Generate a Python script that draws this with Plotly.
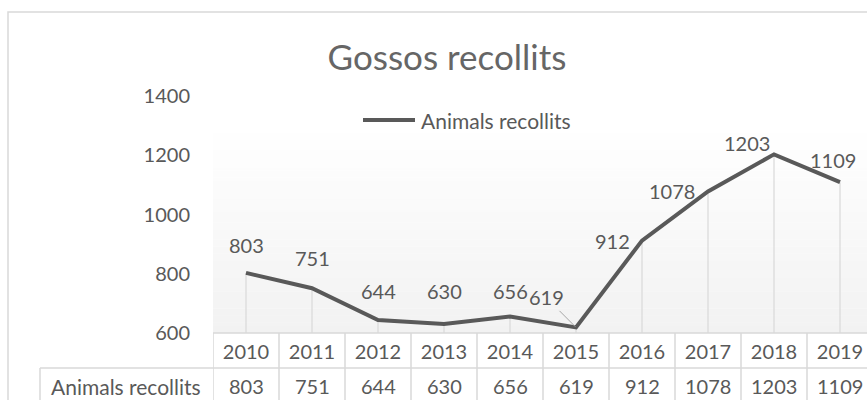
import plotly.graph_objects as go

years = ["2010", "2011", "2012", "2013", "2014", "2015", "2016", "2017", "2018", "2019"]
animals = [803, 751, 644, 630, 656, 619, 912, 1078, 1203, 1109]
series_name = "Animals recollits"
title_text = "Gossos recollits"
y_ticks = [600, 800, 1000, 1200, 1400]

# label offsets in px (dx, dy) per point, like Excel placed them
label_dx = [0, 0, 0, 0, 0, -30, -30, -36, -27, -7]
label_dy = [-28, -30, -29, -33, -25, -30, 0, 0, -11, -22]

W, H = 867, 400
L, R, T, B = 213, 0, 96, 67
PW = W - L - R
PH = H - T - B
GRAY = "#595959"
LINE = "#d9d9d9"
FONT = "Lato"


def px_x(px):
    return (px - L) / PW


def px_y(py):
    return (H - B - py) / PH


fig = go.Figure()
fig.add_trace(go.Scatter(
    x=years, y=animals, mode="lines", name=series_name,
    line=dict(color=GRAY, width=4),
    error_y=dict(type="data", symmetric=False, array=[0] * len(animals),
                 arrayminus=[v - y_ticks[0] for v in animals],
                 color=LINE, thickness=1.2, width=0),
    showlegend=False, cliponaxis=False,
))

shapes = []
# gradient background of plot area
n = 60
top = px_y(126)
for i in range(n):
    f = i / n
    c = round(255 - 13 * (1 - f - 0.5 / n))
    shapes.append(dict(type="rect", xref="paper", yref="paper",
                       x0=0, x1=1, y0=top * f, y1=top * (f + 1 / n) + 0.002,
                       fillcolor=f"rgb({c},{c},{c})", line=dict(width=0), layer="below"))

# chart border
shapes.append(dict(type="rect", xref="paper", yref="paper",
                   x0=px_x(8), x1=px_x(900), y0=px_y(440), y1=px_y(12),
                   line=dict(color=LINE, width=1.5), fillcolor="rgba(0,0,0,0)"))

# data table lines
shapes.append(dict(type="line", xref="paper", yref="paper", x0=0, x1=1.1,
                   y0=px_y(333), y1=px_y(333), line=dict(color=LINE, width=1.5)))
shapes.append(dict(type="line", xref="paper", yref="paper", x0=px_x(40), x1=1.1,
                   y0=px_y(368), y1=px_y(368), line=dict(color=LINE, width=1.5)))
shapes.append(dict(type="line", xref="paper", yref="paper", x0=px_x(40), x1=px_x(40),
                   y0=px_y(368), y1=px_y(420), line=dict(color=LINE, width=1.5)))
for i in range(len(years) + 1):
    shapes.append(dict(type="line", xref="x", yref="paper", x0=i - 0.5, x1=i - 0.5,
                       y0=px_y(333), y1=px_y(420), line=dict(color=LINE, width=1.5)))

# manual legend swatch
shapes.append(dict(type="line", xref="paper", yref="paper", x0=px_x(363), x1=px_x(415),
                   y0=px_y(120), y1=px_y(120), line=dict(color=GRAY, width=4)))

num_font = dict(size=20, color=GRAY, family=FONT)
txt_font = dict(size=21, color=GRAY, family=FONT)

annotations = []
for i, (v, dx, dy) in enumerate(zip(animals, label_dx, label_dy)):
    if years[i] == "2015":
        annotations.append(dict(x=i, y=v, text=str(v), showarrow=True, arrowhead=0,
                                arrowcolor="#a6a6a6", arrowwidth=1, ax=dx, ay=dy,
                                standoff=1, font=num_font))
    else:
        annotations.append(dict(x=i, y=v, text=str(v), showarrow=False,
                                xshift=dx, yshift=-dy, xanchor="center", yanchor="middle",
                                font=num_font))
    annotations.append(dict(x=i, y=px_y(386), yref="paper", text=str(v), showarrow=False,
                            xanchor="center", yanchor="middle", font=num_font))

annotations.append(dict(x=px_x(126), y=px_y(386), xref="paper", yref="paper",
                        text=series_name, showarrow=False, xanchor="center", yanchor="middle",
                        font=txt_font))
annotations.append(dict(x=px_x(419), y=px_y(120), xref="paper", yref="paper",
                        text=series_name, showarrow=False, xanchor="left", yanchor="middle",
                        font=txt_font))

fig.update_layout(
    width=W, height=H,
    margin=dict(l=L, r=R, t=T, b=B),
    paper_bgcolor="white", plot_bgcolor="rgba(0,0,0,0)",
    font=dict(family=FONT, color=GRAY, size=20),
    title=dict(text=title_text, x=447 / W, xref="container", xanchor="center",
               y=1 - 58 / H, yanchor="middle", yref="container",
               font=dict(size=35, color="#666666", family=FONT)),
    xaxis=dict(type="category", range=[-0.5, -0.5 + PW / 66],
               showgrid=False, zeroline=False, showline=False,
               ticks="", ticklabelstandoff=5, tickfont=dict(size=20, color=GRAY)),
    yaxis=dict(range=[600, 1400], tickvals=y_ticks, showgrid=False, zeroline=False,
               showline=False, ticks="", ticklabelstandoff=22,
               tickfont=dict(size=20, color=GRAY)),
    shapes=shapes, annotations=annotations,
)

fig.write_html("out.html", config={"displayModeBar": False},
               post_script="document.body.style.margin='0';")
